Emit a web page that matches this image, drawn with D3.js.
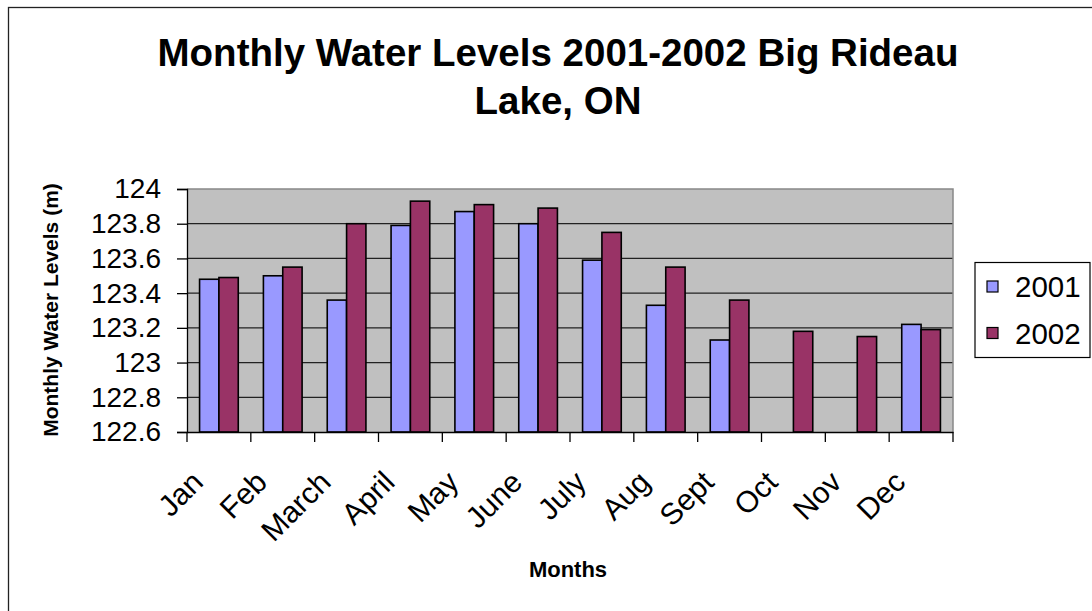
<!DOCTYPE html>
<html>
<head>
<meta charset="utf-8">
<script src="https://cdn.jsdelivr.net/npm/d3@7"></script>
<style>
  html, body { margin: 0; padding: 0; background: #fff; }
  svg { display: block; font-family: Arial, "Liberation Sans", sans-serif; }
</style>
</head>
<body>
<svg id="chart" width="1092" height="611"></svg>
<script>
const months = ["Jan","Feb","March","April","May","June","July","Aug","Sept","Oct","Nov","Dec"];
const seriesNames = ["2001","2002"];
const levels2001 = [123.48,123.50,123.36,123.79,123.87,123.80,123.59,123.33,123.13,null,null,123.22];
const levels2002 = [123.49,123.55,123.80,123.93,123.91,123.89,123.75,123.55,123.36,123.18,123.15,123.19];
const yTicks = [122.6,122.8,123,123.2,123.4,123.6,123.8,124];
const colors = ["#9999FF","#993366"];

const svg = d3.select("#chart");
const plot = {left: 187, right: 953, top: 189, bottom: 432};

// outer chart border
svg.append("rect").attr("x", 8.5).attr("y", 7.5).attr("width", 1200).attr("height", 800)
  .attr("fill", "none").attr("stroke", "#222").attr("stroke-width", 1.3);

const x0 = d3.scaleBand().domain(months).range([plot.left, plot.right]).padding(0);
const x1 = d3.scaleBand().domain(seriesNames).range([0, x0.bandwidth()]).paddingInner(0).paddingOuter(0.65);
const y = d3.scaleLinear().domain([122.6, 124]).range([plot.bottom, plot.top]);

// plot background
svg.append("rect").attr("x", plot.left).attr("y", plot.top)
  .attr("width", plot.right - plot.left).attr("height", plot.bottom - plot.top)
  .attr("fill", "#C0C0C0");

// gridlines
svg.append("g").selectAll("line").data(yTicks.filter(t => t > 122.6 && t < 124)).join("line")
  .attr("x1", plot.left).attr("x2", plot.right)
  .attr("y1", d => y(d)).attr("y2", d => y(d))
  .attr("stroke", "#222").attr("stroke-width", 1.2);

// plot border top/right
svg.append("path")
  .attr("d", `M${plot.left},${plot.top}H${plot.right}V${plot.bottom}`)
  .attr("fill", "none").attr("stroke", "#888").attr("stroke-width", 1.5);

// bars
const data = [];
months.forEach((m, i) => {
  [levels2001, levels2002].forEach((arr, s) => {
    if (arr[i] != null) data.push({m, s: seriesNames[s], v: arr[i], c: colors[s]});
  });
});
svg.append("g").selectAll("rect").data(data).join("rect")
  .attr("x", d => x0(d.m) + x1(d.s))
  .attr("width", x1.bandwidth())
  .attr("y", d => y(d.v))
  .attr("height", d => y(122.6) - y(d.v))
  .attr("fill", d => d.c)
  .attr("stroke", "#000").attr("stroke-width", 1.6);

// y axis
const yAxis = d3.axisLeft(y).tickValues(yTicks).tickSize(10).tickPadding(16)
  .tickFormat(d => String(+d.toFixed(1)));
const gy = svg.append("g").attr("transform", `translate(${plot.left},0)`).call(yAxis);
gy.select(".domain").attr("stroke", "#000").attr("stroke-width", 1.3);
gy.selectAll(".tick line").attr("stroke", "#000").attr("stroke-width", 1.3);
gy.selectAll(".tick text").attr("font-size", 28).attr("fill", "#000")
  .attr("font-family", "Arial, 'Liberation Sans', sans-serif");

// x axis with ticks at category boundaries
const xAxis = d3.axisBottom(x0).tickSize(0).tickFormat("");
const gx = svg.append("g").attr("transform", `translate(0,${plot.bottom})`).call(xAxis);
gx.select(".domain").attr("stroke", "#000").attr("stroke-width", 1.3);
gx.selectAll(".tick").remove();
const boundaries = months.map(m => x0(m)).concat([x0(months[months.length-1]) + x0.bandwidth()]);
svg.append("g").selectAll("line").data(boundaries).join("line")
  .attr("x1", d => d).attr("x2", d => d)
  .attr("y1", plot.bottom).attr("y2", plot.bottom + 10)
  .attr("stroke", "#000").attr("stroke-width", 1.3);

// x labels rotated
svg.append("g").selectAll("text").data(months).join("text")
  .attr("transform", m => `translate(${x0(m) + x0.bandwidth()/2 - 14},${plot.bottom + 52}) rotate(-45)`)
  .attr("text-anchor", "end")
  .attr("font-size", 30)
  .attr("fill", "#000")
  .text(m => m);

// title
svg.append("text").attr("x", 558).attr("y", 66).attr("text-anchor", "middle")
  .attr("font-size", 38.5).attr("font-weight", "bold").text("Monthly Water Levels 2001-2002 Big Rideau");
svg.append("text").attr("x", 558).attr("y", 114).attr("text-anchor", "middle")
  .attr("font-size", 38.5).attr("font-weight", "bold").text("Lake, ON");

// axis titles
svg.append("text").attr("transform", "translate(58,310) rotate(-90)")
  .attr("text-anchor", "middle").attr("font-size", 21).attr("font-weight", "bold")
  .text("Monthly Water Levels (m)");
svg.append("text").attr("x", 568).attr("y", 577).attr("text-anchor", "middle")
  .attr("font-size", 22).attr("font-weight", "bold").text("Months");

// legend
const lg = svg.append("g");
lg.append("rect").attr("x", 975).attr("y", 262.5).attr("width", 115).attr("height", 95)
  .attr("fill", "#fff").attr("stroke", "#000").attr("stroke-width", 1.2);
seriesNames.forEach((s, i) => {
  const yy = 281 + i * 46.5;
  lg.append("rect").attr("x", 987).attr("y", yy).attr("width", 11).attr("height", 11)
    .attr("fill", colors[i]).attr("stroke", "#000").attr("stroke-width", 1.2);
  lg.append("text").attr("x", 1015).attr("y", yy + 16).attr("font-size", 29.5).attr("fill", "#000").text(s);
});
</script>
</body>
</html>
